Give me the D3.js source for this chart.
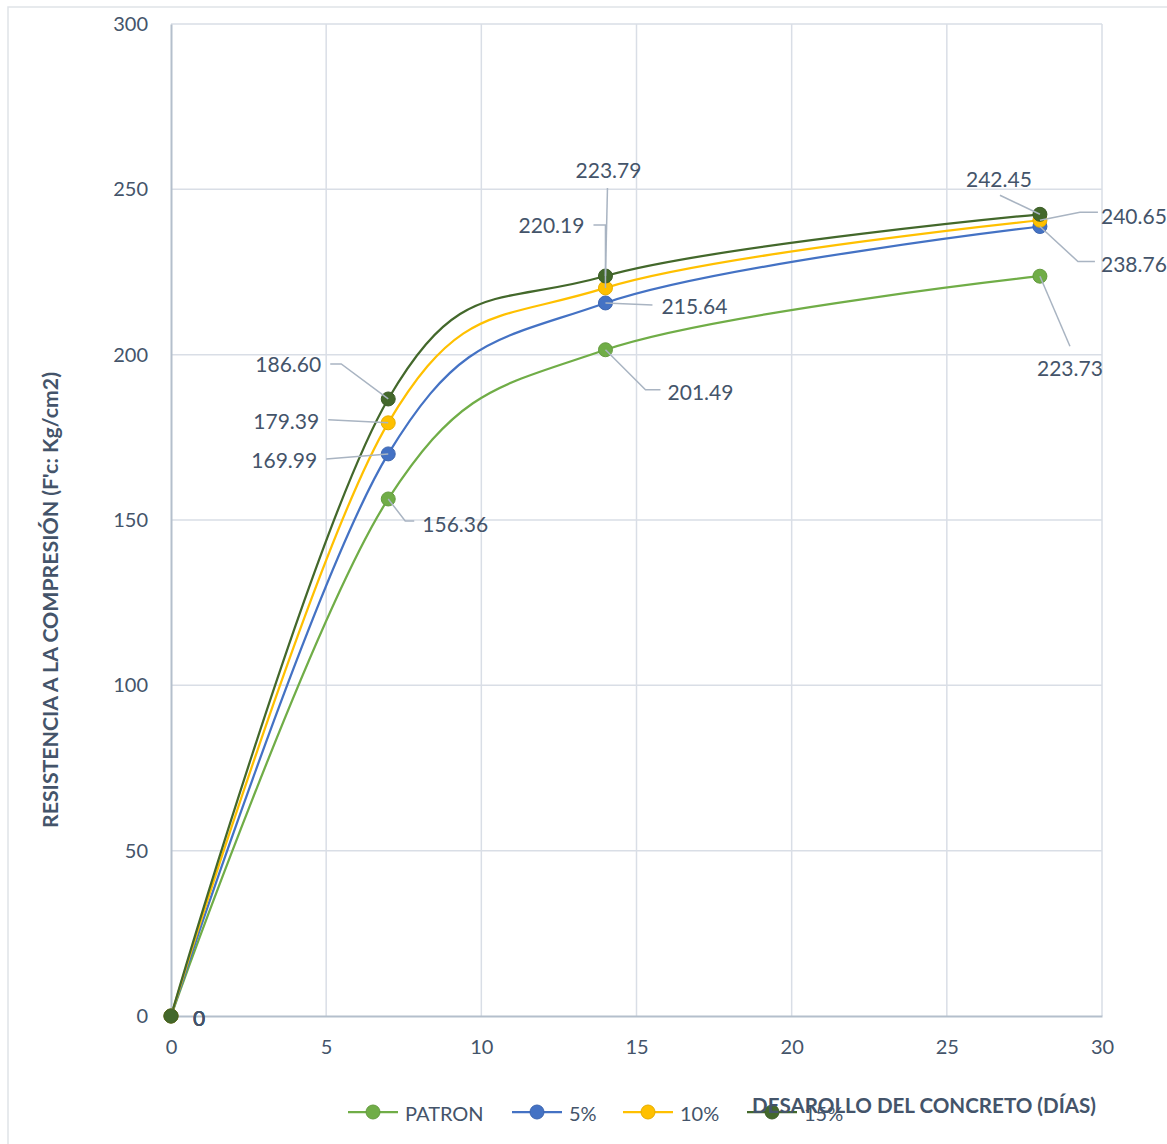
<!DOCTYPE html>
<html>
<head>
<meta charset="utf-8">
<script src="https://cdn.jsdelivr.net/npm/d3@7"></script>
<style>
  html, body { margin: 0; padding: 0; background: #fff; }
  svg { display: block; font-family: Lato, "Open Sans", sans-serif; }
</style>
</head>
<body>
<svg id="chart" width="1167" height="1144"></svg>
<script>
// Curing age (days) and compressive strength for each mix
const dias = [0, 7, 14, 28];
const seriesNames = ["PATRON", "5%", "10%", "15%"];
const patron = [0, 156.36, 201.49, 223.73];
const cinco = [0, 169.99, 215.64, 238.76];
const diez = [0, 179.39, 220.19, 240.65];
const quince = [0, 186.60, 223.79, 242.45];
const xTicks = [0, 5, 10, 15, 20, 25, 30];
const yTicks = [0, 50, 100, 150, 200, 250, 300];

const colors = ["#70ad47", "#4472c4", "#ffc000", "#43682b"];
const textColor = "#44546a";
const gridColor = "#d9dee6";
const axisColor = "#b4bfcc";
const leaderColor = "#a9b4c2";

// Label placement per series / point: text centre offset and leader polyline (relative to the marker)
const labelLayout = [
  [ {d:[28,1]}, {d:[67,25], lead:[[0,0],[17,22],[26,22]]}, {d:[95,42], lead:[[0,0],[40,40],[55,40]]}, {d:[30,91], lead:[[0,0],[30,70]]} ],
  [ {d:[28,1]}, {d:[-104,6], lead:[[-62,5],[0,0]]}, {d:[89,3], lead:[[0,0],[47,2]]}, {d:[94,37], lead:[[0,0],[38,35],[55,35]]} ],
  [ {d:[28,1]}, {d:[-102,-2], lead:[[-60,-3],[0,0]]}, {d:[-54,-63], lead:[[-12,-63],[0,-63],[0,0]]}, {d:[94,-5], lead:[[58,-8],[40,-8],[0,0]]} ],
  [ {d:[28,1]}, {d:[-100,-35], lead:[[-58,-35],[-47,-35],[0,0]]}, {d:[3,-107], lead:[[2,-88],[0,0]]}, {d:[-41,-36], lead:[[-40,-19],[0,0]]} ]
];

const svg = d3.select("#chart");
const values = [patron, cinco, diez, quince];

// Chart frame
svg.append("rect")
  .attr("x", 8).attr("y", 7).attr("width", 1180).attr("height", 1160)
  .attr("fill", "none").attr("stroke", "#dfe3e8").attr("stroke-width", 1.5);

const x = d3.scaleLinear().domain([0, 30]).range([171, 1102]);
const y = d3.scaleLinear().domain([0, 300]).range([1016, 24]);

// Gridlines
const grid = svg.append("g");
grid.selectAll("line.h").data(yTicks.slice(1)).join("line")
  .attr("x1", x(0)).attr("x2", x(30))
  .attr("y1", d => y(d)).attr("y2", d => y(d))
  .attr("stroke", gridColor).attr("stroke-width", 1.5);
grid.selectAll("line.v").data(xTicks.slice(1)).join("line")
  .attr("y1", y(0)).attr("y2", y(300))
  .attr("x1", d => x(d)).attr("x2", d => x(d))
  .attr("stroke", gridColor).attr("stroke-width", 1.5);

// Axes
const yAxis = d3.axisLeft(y).tickValues(yTicks).tickSize(0).tickPadding(23);
const gy = svg.append("g").attr("transform", `translate(${x(0)},0)`).call(yAxis);
const xAxis = d3.axisBottom(x).tickValues(xTicks).tickSize(0).tickPadding(24);
const gx = svg.append("g").attr("transform", `translate(0,${y(0)})`).call(xAxis);
[gx, gy].forEach(g => {
  g.select(".domain").attr("stroke", axisColor).attr("stroke-width", 2);
  g.selectAll("text").attr("fill", textColor).attr("font-size", 20)
    .attr("font-family", "Lato, 'Open Sans', sans-serif");
});

// Smoothed series lines
const line = d3.line()
  .x((d, i) => x(dias[i]))
  .y(d => y(d))
  .curve(d3.curveCardinal.tension(0));

values.forEach((vals, s) => {
  svg.append("path")
    .attr("d", line(vals))
    .attr("fill", "none")
    .attr("stroke", colors[s])
    .attr("stroke-width", 2.25);
});

// Markers
values.forEach((vals, s) => {
  svg.append("g").selectAll("circle").data(vals).join("circle")
    .attr("cx", (d, i) => x(dias[i]))
    .attr("cy", d => y(d))
    .attr("r", 7)
    .attr("fill", colors[s])
    .attr("stroke", d3.color(colors[s]).darker(0.3))
    .attr("stroke-width", 1);
});

// Data labels with leader lines
values.forEach((vals, s) => {
  vals.forEach((v, i) => {
    const px = x(dias[i]), py = y(v);
    const lay = labelLayout[s][i];
    if (lay.lead) {
      svg.append("polyline")
        .attr("points", lay.lead.map(p => [px + p[0], py + p[1]].join(",")).join(" "))
        .attr("fill", "none").attr("stroke", leaderColor).attr("stroke-width", 1.5);
    }
    svg.append("text")
      .attr("x", px + lay.d[0]).attr("y", py + lay.d[1])
      .attr("text-anchor", "middle").attr("dominant-baseline", "central")
      .attr("font-size", 21)
      .attr("fill", textColor)
      .text(i === 0 ? "0" : v.toFixed(2));
  });
});

// Legend
const legendX = [348, 512, 623, 747];
const legY = 1112;
seriesNames.forEach((name, s) => {
  const g = svg.append("g").attr("transform", `translate(${legendX[s]},${legY})`);
  g.append("line").attr("x1", 0).attr("x2", 50).attr("y1", 0).attr("y2", 0)
    .attr("stroke", colors[s]).attr("stroke-width", 2.25);
  g.append("circle").attr("cx", 25).attr("cy", 0).attr("r", 7)
    .attr("fill", colors[s]).attr("stroke", d3.color(colors[s]).darker(0.3)).attr("stroke-width", 1);
  g.append("text").attr("x", 57).attr("y", 1)
    .attr("dominant-baseline", "central")
    .attr("font-size", 20).attr("fill", textColor).text(name);
});

// Axis titles
svg.append("text")
  .attr("x", 752).attr("y", 1105)
  .attr("dominant-baseline", "central")
  .attr("font-size", 20).attr("font-weight", "bold").attr("fill", textColor)
  .attr("textLength", 344).attr("lengthAdjust", "spacingAndGlyphs")
  .text("DESAROLLO DEL CONCRETO (DÍAS)");

svg.append("text")
  .attr("transform", "translate(50,600) rotate(-90)")
  .attr("text-anchor", "middle").attr("dominant-baseline", "central")
  .attr("font-size", 20).attr("font-weight", "bold").attr("fill", textColor)
  .attr("textLength", 456).attr("lengthAdjust", "spacingAndGlyphs")
  .text("RESISTENCIA A LA COMPRESIÓN (F'c: Kg/cm2)");
</script>
</body>
</html>
